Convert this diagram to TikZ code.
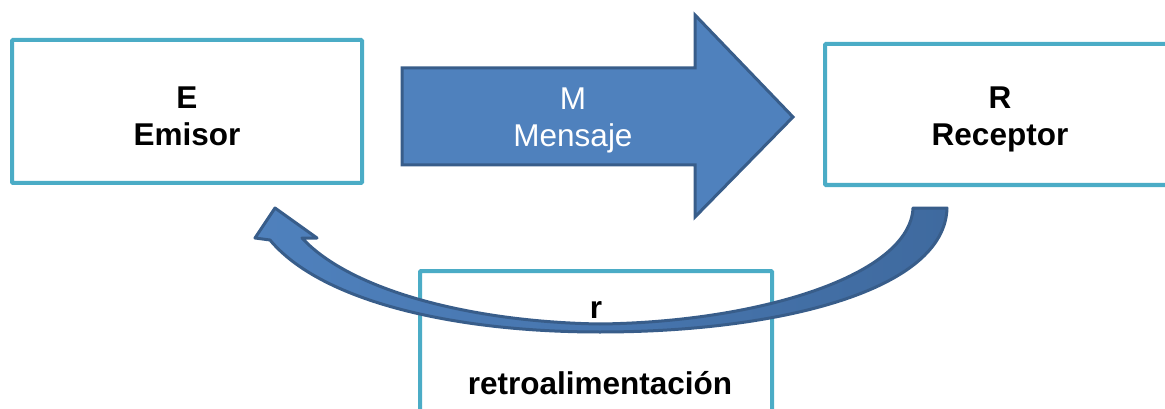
\documentclass[tikz,border=0pt]{standalone}
\usepackage{fontspec}
\setmainfont{Liberation Sans}
\definecolor{boxcol}{HTML}{4BACC6}
\definecolor{arrfill}{HTML}{4F81BD}
\definecolor{arrdark}{HTML}{3F6A9F}
\definecolor{arredge}{HTML}{385D8A}
\tikzset{
  ebox/.style={draw=boxcol, line width=4pt, rounded corners=1pt, fill=white, inner sep=0pt},
  btext/.style={font=\fontsize{31.5}{37}\selectfont\bfseries, align=center, inner sep=0pt},
  wtext/.style={font=\fontsize{31.5}{37}\selectfont, text=white, align=center, inner sep=0pt},
  barrow/.style={fill=arrfill, draw=arredge, line width=3pt, line join=miter}
}
\begin{document}
\begin{tikzpicture}[x=1pt,y=-1pt]
\useasboundingbox (0,0) rectangle (1165,409);
\clip (0,0) rectangle (1165,409);
% boxes
\node[ebox, minimum width=350pt, minimum height=143pt] (emisor) at (187,111.5) {};
\node[ebox, minimum width=350pt, minimum height=141pt] (receptor) at (1000,114.5) {};
\node[ebox, minimum width=352pt, minimum height=160pt] (retro) at (596,351) {};
% message arrow
\path[barrow] (402,68) -- (695,68) -- (695,15) -- (793,117) -- (695,217) -- (695,165) -- (402,165) -- cycle;
% feedback curved arrow
\path[draw=arredge, line width=3pt, line join=round, left color=arrfill, right color=arrdark]
  (947,208) -- (913,208)
  .. controls (910,275) and (760,322) .. (600,324)
  .. controls (470,322) and (350,290) .. (302,238)
  -- (317,238) -- (275,208) -- (255,238) -- (270,240)
  .. controls (320,300) and (450,332) .. (600,332)
  .. controls (780,332) and (945,290) .. (947,208) -- cycle;
% texts
\node[btext] (etext) at (187,116) {E\\Emisor};
\node[btext] (rtext) at (1000,119) {R\\Receptor};
\node[wtext] (mtext) at (573,120) {M\\Mensaje};
\node[btext, anchor=base] (rsmall) at (596,318) {r};
\node[btext, anchor=base] (retrotext) at (600,394) {retroalimentación};
\end{tikzpicture}
\end{document}
